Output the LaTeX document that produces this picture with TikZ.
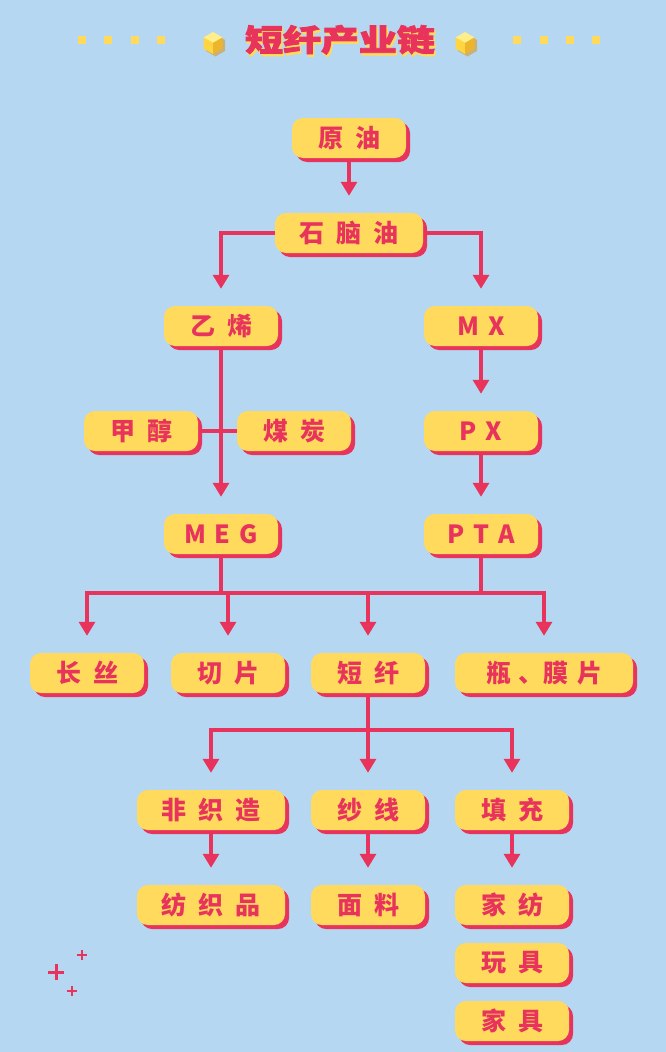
\documentclass[tikz,border=0pt]{standalone}
\usepackage{fontspec}
\usepackage{graphicx}
\newfontfamily\cjk{Noto Sans CJK SC}
\usetikzlibrary{shadows,arrows.meta,calc}
\definecolor{bgblue}{HTML}{B5D7F1}
\definecolor{myyellow}{HTML}{FFDA5C}
\definecolor{myred}{HTML}{E8345C}
\definecolor{cubetop}{HTML}{FFEE8A}
\definecolor{cubeleft}{HTML}{FFD640}
\definecolor{cuberight}{HTML}{EDB52C}
\definecolor{cubeshade}{HTML}{C9B27A}
\pgfdeclarelayer{back}\pgfdeclarelayer{bg}\pgfsetlayers{back,bg,main}
\newcommand\gp{\hspace{12pt}}
\newcommand\lp{\hspace{9pt}}
\newcommand\titletext{\scalebox{1.15}[0.92]{短纤产业链}}
\begin{document}
\begin{tikzpicture}[x=1pt,y=-1pt,
  box/.style={rounded corners=11pt, fill=myyellow, minimum height=40pt, inner sep=0pt,
    text=myred, font=\cjk\bfseries\fontsize{25}{25}\selectfont,
    general shadow={fill=myred,shadow xshift=4pt,shadow yshift=-4pt}},
  bwa/.style={box,minimum width=114pt},
  bwb/.style={box,minimum width=148pt},
  bwc/.style={box,minimum width=178pt},
  conn/.style={draw=myred,line width=3.2pt},
  arr/.style={conn,-{Triangle[width=16pt,length=14pt]},shorten >=17pt},
  sq/.style={fill=myyellow,minimum size=8pt,inner sep=0pt},
  plusmark/.style={draw=myred,line width=#1}
]
\begin{pgfonlayer}{back}
\fill[bgblue] (0,0) rectangle (666,1052);
\end{pgfonlayer}
\useasboundingbox (0,0) rectangle (666,1052);

% title decorations
\foreach \sx/\nm in {82/a,108/b,135/c,161/d,517/e,544/f,570/g,596/h}
  \node[sq] (sq\nm) at (\sx,40) {};
\foreach \cx in {213,465} {
  \begin{scope}[shift={(\cx,43)}]
    \fill[cubeshade] (2.5,-8.5) -- (12,-3) -- (12,8) -- (2.5,13.5) -- (-7,8) -- (-7,-3) -- cycle;
    \fill[cubetop] (0,0) -- (9.5,-5.5) -- (0,-11) -- (-9.5,-5.5) -- cycle;
    \fill[cubeleft] (0,0) -- (-9.5,-5.5) -- (-9.5,5.5) -- (0,11) -- cycle;
    \fill[cuberight] (0,0) -- (0,11) -- (9.5,5.5) -- (9.5,-5.5) -- cycle;
  \end{scope}
}
\node[font=\cjk\bfseries\fontsize{33}{33}\selectfont\addfontfeature{FakeBold=2.5},text=myred,inner sep=0pt] (title) at (340,41)
  {\makebox[0pt][l]{\hspace{1.5pt}\raisebox{-2.5pt}{\color{myyellow}\titletext}}\titletext};

% nodes
\node[bwa] (yuanyou) at (349,138) {原\gp 油};
\node[bwb] (naphtha) at (349,233) {石\gp 脑\gp 油};
\node[bwa] (ethylene) at (221,326) {乙\gp 烯};
\node[bwa] (MX) at (481,326) {M\lp X};
\node[bwa] (jiachun) at (141,431) {甲\gp 醇};
\node[bwa] (meitan) at (294,431) {煤\gp 炭};
\node[bwa] (PX) at (481,431) {P\lp X};
\node[bwa] (MEG) at (221,534) {M\lp E\lp G};
\node[bwa] (PTA) at (481,534) {P\lp T\lp A};
\node[bwa] (changsi) at (87,673) {长\gp 丝};
\node[bwa] (qiepian) at (228,673) {切\gp 片};
\node[bwa] (duanxian) at (368,673) {短\gp 纤};
\node[bwc] (pingmo) at (544,673) {瓶\hspace{7pt}、膜\hspace{9pt}片};
\node[bwb] (feizhi) at (211,810) {非\gp 织\gp 造};
\node[bwa] (shaxian) at (368,810) {纱\gp 线};
\node[bwa] (tianchong) at (512,810) {填\gp 充};
\node[bwb] (fangzhipin) at (211,905) {纺\gp 织\gp 品};
\node[bwa] (mianliao) at (368,905) {面\gp 料};
\node[bwa] (jiafang) at (512,905) {家\gp 纺};
\node[bwa] (wanju) at (512,963) {玩\gp 具};
\node[bwa] (jiaju) at (512,1021) {家\gp 具};

% connectors
\begin{pgfonlayer}{bg}
\coordinate (busA) at (0,593);
\coordinate (busB) at (0,730);
\draw[arr] (yuanyou.south) -- (naphtha.north);
\draw[arr] (naphtha.west) -| (ethylene.north);
\draw[arr] (naphtha.east) -| (MX.north);
\draw[arr] (MX.south) -- (PX.north);
\draw[arr] (PX.south) -- (PTA.north);
\draw[arr] (ethylene.south) -- (MEG.north);
\draw[conn] (jiachun.east) -- (meitan.west);
\draw[arr] (MEG.south) |- (changsi.north |- busA) -- (changsi.north);
\draw[arr] (PTA.south) |- (pingmo.north |- busA) -- (pingmo.north);
\draw[conn] (MEG.south |- busA) -- (PTA.south |- busA);
\draw[arr] (qiepian.north |- busA) -- (qiepian.north);
\draw[arr] (duanxian.north |- busA) -- (duanxian.north);
\draw[arr] (duanxian.south) |- (feizhi.north |- busB) -- (feizhi.north);
\draw[arr] (duanxian.south) |- (tianchong.north |- busB) -- (tianchong.north);
\draw[arr] (duanxian.south) -- (shaxian.north);
\draw[arr] (feizhi.south) -- (fangzhipin.north);
\draw[arr] (shaxian.south) -- (mianliao.north);
\draw[arr] (tianchong.south) -- (jiafang.north);
\end{pgfonlayer}

% sparkles
\draw[plusmark=3pt] (48,972) -- (64,972) (56,964) -- (56,980);
\draw[plusmark=2pt] (77,955) -- (87,955) (82,950) -- (82,960);
\draw[plusmark=2pt] (67,991) -- (77,991) (72,986) -- (72,996);
\end{tikzpicture}
\end{document}
